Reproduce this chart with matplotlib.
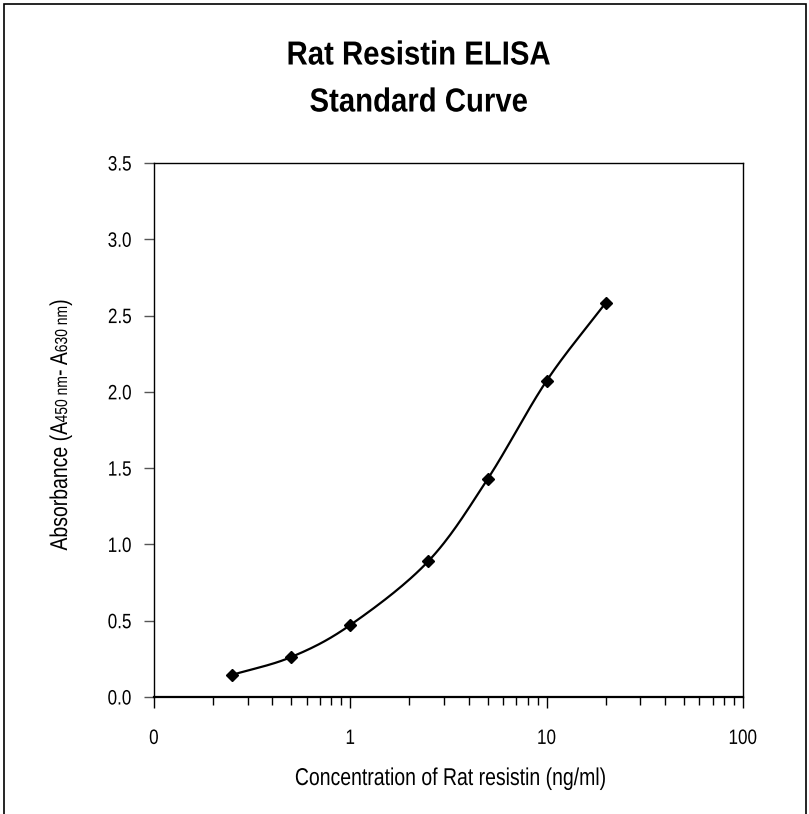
import numpy as np
import matplotlib
matplotlib.use("Agg")
import matplotlib.pyplot as plt
from matplotlib.patches import Rectangle
from matplotlib.patheffects import AbstractPathEffect
from matplotlib.transforms import Affine2D
from matplotlib.ticker import FixedLocator, FixedFormatter, LogLocator, NullFormatter

plt.rcParams["font.family"] = ["Liberation Sans", "DejaVu Sans"]

# standard curve data
conc = [0.25, 0.5, 1, 2.5, 5, 10, 20]
absorb = [0.145, 0.262, 0.472, 0.891, 1.428, 2.073, 2.584]

x_ticks = [0.1, 1, 10, 100]
x_tick_labels = ["0", "1", "10", "100"]
y_ticks = [0.0, 0.5, 1.0, 1.5, 2.0, 2.5, 3.0, 3.5]


class Squeeze(AbstractPathEffect):
    """Narrow the glyphs (the original uses a condensed font)."""

    def __init__(self, factor, axis="x", anchor="center"):
        super().__init__()
        self.factor = factor
        self.axis = axis
        self.anchor = anchor

    def draw_path(self, renderer, gc, tpath, affine, rgbFace=None):
        v = affine.transform(tpath.vertices)
        k = 0 if self.axis == "x" else 1
        if self.anchor == "center":
            c = (v[:, k].min() + v[:, k].max()) / 2
        elif self.anchor == "right":
            c = v[:, k].max()
        else:
            c = float(self.anchor)
        if k == 0:
            extra = Affine2D().translate(-c, 0).scale(self.factor, 1).translate(c, 0)
        else:
            extra = Affine2D().translate(0, -c).scale(1, self.factor).translate(0, c)
        renderer.draw_path(gc, tpath, affine + extra, rgbFace)


def smooth_curve(xs, ys, n=30):
    # Catmull-Rom smoothing in log-x space (like Excel's smoothed line)
    lx = np.log10(xs) * 1.29
    ly = np.asarray(ys, dtype=float)
    pts = np.column_stack([lx, ly])
    pts = np.vstack([pts[0] * 2 - pts[1], pts, pts[-1] * 2 - pts[-2]])
    out = []
    for i in range(1, len(pts) - 2):
        p0, p1, p2, p3 = pts[i - 1], pts[i], pts[i + 1], pts[i + 2]
        t = np.linspace(0, 1, n)[:, None]
        seg = 0.5 * ((2 * p1) + (-p0 + p2) * t + (2 * p0 - 5 * p1 + 4 * p2 - p3) * t ** 2
                     + (-p0 + 3 * p1 - 3 * p2 + p3) * t ** 3)
        out.append(seg)
    out = np.vstack(out)
    return 10 ** (out[:, 0] / 1.29), out[:, 1]


W, H = 809, 814
fig = plt.figure(figsize=(W / 100, H / 100), dpi=100)
ax = fig.add_axes([154 / W, (H - 697) / H, 589 / W, 534 / H])

sx, sy = smooth_curve(conc, absorb)
ax.plot(sx, sy, color="black", linewidth=1.6)
ax.plot(conc, absorb, linestyle="none", marker="D", markersize=6, color="black")

ax.set_xscale("log")
ax.set_xlim(0.1, 100)
ax.set_ylim(0, 3.5)
ax.xaxis.set_major_locator(FixedLocator(x_ticks))
ax.xaxis.set_major_formatter(FixedFormatter(x_tick_labels))
ax.xaxis.set_minor_locator(LogLocator(base=10, subs=np.arange(2, 10)))
ax.xaxis.set_minor_formatter(NullFormatter())
ax.set_yticks(y_ticks)
ax.set_yticklabels([f"{v:.1f}" for v in y_ticks])

ax.tick_params(axis="x", which="major", direction="out", length=8, width=1, pad=15, labelsize=15)
ax.tick_params(axis="x", which="minor", direction="out", length=6, width=1)
ax.tick_params(axis="y", direction="out", length=7, width=1, pad=9, labelsize=15, color="#555555")
for s in ax.spines.values():
    s.set_linewidth(1)
    s.set_color("black")
ax.spines["bottom"].set_linewidth(1.6)

for lab in ax.get_xticklabels():
    lab.set_path_effects([Squeeze(0.82)])
for lab in ax.get_yticklabels():
    lab.set_path_effects([Squeeze(0.82, anchor="right")])

title_x = 419 / W
fig.text(title_x, 1 - 56 / H, "Rat Resistin ELISA", ha="center", va="center",
         fontsize=24, fontweight="bold", path_effects=[Squeeze(0.88)])
fig.text(title_x, 1 - 103 / H, "Standard Curve", ha="center", va="center",
         fontsize=24, fontweight="bold", path_effects=[Squeeze(0.88)])

fig.text(450 / W, 1 - 779 / H, "Concentration of Rat resistin (ng/ml)",
         ha="center", va="center", fontsize=17.5, path_effects=[Squeeze(0.8)])

# y label with small (non-lowered) subscripts, built piece by piece
pieces = [("Absorbance (A", 17.5), ("450 nm", 12.5), ("- A", 17.5), ("630 nm", 12.5), (")", 17.5)]
fig.canvas.draw()
renderer = fig.canvas.get_renderer()
texts = []
for s, fs in pieces:
    t = fig.text(0, 0, s, rotation=90, rotation_mode="anchor", ha="left",
                 va="baseline", fontsize=fs)
    texts.append(t)
lengths = [t.get_window_extent(renderer).height for t in texts]
total = sum(lengths)
ycenter = H - 425
ypix = ycenter - total / 2
xpix = 67
for t, L in zip(texts, lengths):
    t.set_position((xpix / W, ypix / H))
    t.set_path_effects([Squeeze(0.8, axis="y", anchor=ycenter)])
    ypix += L

# outer chart border
fig.patches.append(Rectangle((4 / W, -0.05), 802 / W, 1.05 - 4 / H,
                             transform=fig.transFigure, fill=False,
                             edgecolor="black", linewidth=1.2))

fig.savefig("out.png", dpi=100)
